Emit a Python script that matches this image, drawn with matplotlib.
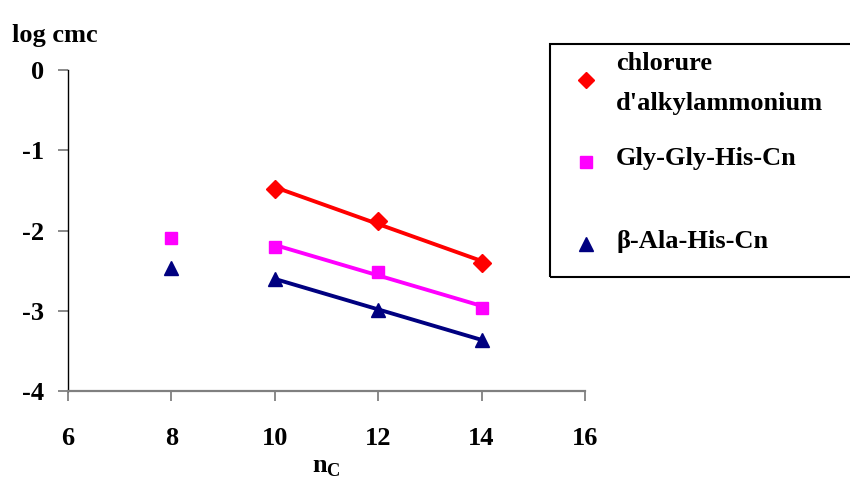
import numpy as np
import matplotlib.pyplot as plt
from matplotlib.lines import Line2D
from matplotlib.patches import Rectangle

# data
n_c = [8, 10, 12, 14]
chlorure = [None, -1.48, -1.88, -2.40]
gly_gly_his = [-2.09, -2.20, -2.52, -2.96]
ala_his = [-2.47, -2.60, -2.99, -3.36]

labels = [["chlorure", "d'alkylammonium"], ['Gly-Gly-His-Cn'], ['β-Ala-His-Cn']]
values = [chlorure, gly_gly_his, ala_his]
colors = ['#ff0000', '#ff00ff', '#000080']
markers = ['D', 's', '^']
msizes = [9.0, 8.4, 10.6]

plt.rcParams['font.family'] = ['Liberation Serif', 'DejaVu Serif']
plt.rcParams['font.weight'] = 'bold'
plt.rcParams['axes.unicode_minus'] = False
plt.rcParams['mathtext.fontset'] = 'custom'
plt.rcParams['mathtext.rm'] = 'Liberation Serif:bold'
plt.rcParams['mathtext.bf'] = 'Liberation Serif:bold'

W, H = 850, 478
fs = 19


def fx(px):
    return px / W


def fy(py):
    return 1 - py / H


fig = plt.figure(figsize=(W / 100, H / 100), dpi=100)
ax = fig.add_axes([fx(68), fy(391), fx(585) - fx(68), fy(70) - fy(391)])

for vals, color, marker, ms in zip(values, colors, markers, msizes):
    x = np.array([n for n, v in zip(n_c, vals) if v is not None], dtype=float)
    y = np.array([v for v in vals if v is not None], dtype=float)
    ax.plot(x, y, linestyle='none', marker=marker, color=color, markersize=ms,
            markeredgecolor=color, zorder=3)
    # trend line over n = 10..14
    fit = x >= 10
    a, b = np.polyfit(x[fit], y[fit], 1)
    xs = np.array([10, 14])
    ax.plot(xs, a * xs + b, color=color, linewidth=2.8, zorder=2)

ax.set_xlim(6, 16)
ax.set_ylim(-4, 0)
ax.set_xticks([6, 8, 10, 12, 14, 16])
ax.set_yticks([0, -1, -2, -3, -4])
ax.spines['top'].set_visible(False)
ax.spines['right'].set_visible(False)
ax.spines['left'].set_color('black')
ax.spines['left'].set_linewidth(1.0)
ax.spines['bottom'].set_color('#808080')
ax.spines['bottom'].set_linewidth(1.6)
ax.tick_params(axis='both', colors='#808080', labelcolor='black', labelsize=fs,
               length=7, width=1.3)
ax.tick_params(axis='x', pad=19)
ax.tick_params(axis='y', pad=10)

ax.set_xlabel(r'$\mathbf{n}_\mathbf{C}$', fontsize=fs, labelpad=5)
fig.text(fx(12), fy(42), 'log cmc', fontsize=fs, fontweight='bold',
         ha='left', va='baseline')

# legend box, drawn by hand to follow the original spacing
fig.add_artist(Rectangle((fx(550), fy(277)), fx(855) - fx(550), fy(44) - fy(277),
                         transform=fig.transFigure, fill=False,
                         edgecolor='black', linewidth=1.5))
key_y = [80, 162, 244]
text_y = [[70, 110], [165], [248]]
for lab, color, marker, ms, ky, ty in zip(labels, colors, markers, msizes,
                                         key_y, text_y):
    fig.add_artist(Line2D([fx(586)], [fy(ky)], transform=fig.transFigure,
                          linestyle='none', marker=marker, color=color,
                          markersize=ms * 0.95))
    for line, yy in zip(lab, ty):
        fig.text(fx(616), fy(yy), line, fontsize=fs, fontweight='bold',
                 ha='left', va='baseline')

fig.savefig('out.png', dpi=100)
